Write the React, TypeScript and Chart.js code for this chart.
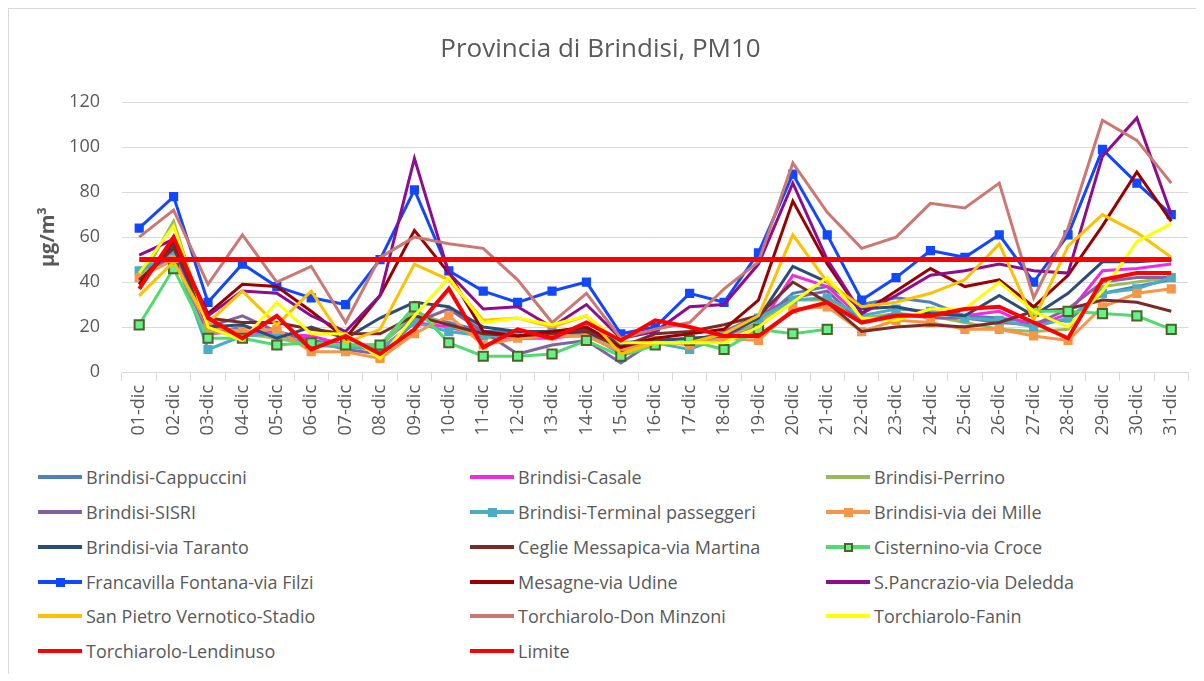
import React, { useEffect, useRef } from "react";
import { Chart, registerables } from "chart.js";

Chart.register(...registerables);

const FONT = "'Open Sans', sans-serif";
const TEXT = "#595959";

const days = [
  "01-dic", "02-dic", "03-dic", "04-dic", "05-dic", "06-dic", "07-dic", "08-dic", "09-dic", "10-dic",
  "11-dic", "12-dic", "13-dic", "14-dic", "15-dic", "16-dic", "17-dic", "18-dic", "19-dic", "20-dic",
  "21-dic", "22-dic", "23-dic", "24-dic", "25-dic", "26-dic", "27-dic", "28-dic", "29-dic", "30-dic", "31-dic",
];

const yTicks = [0, 20, 40, 60, 80, 100, 120];

const cappuccini = [42, 52, 17, 20, 18, 14, 12, 12, 25, 22, 18, 18, 17, 20, 12, 15, 13, 15, 22, 35, 38, 30, 33, 31, 25, 24, 22, 23, 35, 38, 41];
const casale = [43, 55, 17, 18, 17, 16, 12, 10, 22, 20, 16, 15, 15, 17, 10, 14, 14, 17, 20, 43, 38, 24, 24, 27, 25, 27, 20, 26, 45, 46, 48];
const perrino = [40, 67, 18, 17, 15, 12, 12, 11, 27, 21, 15, 16, 16, 16, 10, 15, 13, 14, 22, 32, 32, 24, 26, 25, 22, 19, 18, 19, 38, 40, 42];
const sisri = [46, 50, 20, 25, 18, 14, 10, 8, 22, 28, 18, 8, 12, 14, 4, 14, 13, 18, 25, 33, 36, 22, 26, 24, 24, 22, 21, 28, 40, 42, 42];
const terminal = [45, 53, 10, 16, 17, 12, 11, 10, 22, 18, 16, 16, 18, 17, 8, 13, 10, 16, 24, 32, 33, 25, 28, 27, 24, 23, 20, 24, 35, 37, 42];
const viaMille = [42, 50, 20, 18, 19, 9, 9, 6, 17, 25, 12, 15, 16, 16, 9, 14, 12, 15, 14, 28, 29, 18, 23, 22, 19, 19, 16, 14, 29, 35, 37];
const viaTaranto = [39, 56, 20, 21, 15, 20, 15, 24, 31, 29, 20, 18, 18, 19, 13, 14, 15, 16, 24, 47, 40, 28, 29, 26, 25, 34, 25, 35, 49, 49, 50];
const ceglie = [41, 55, 24, 22, 22, 19, 17, 17, 25, 21, 17, 16, 17, 18, 11, 17, 18, 21, 25, 40, 31, 18, 20, 21, 20, 22, 27, 28, 32, 31, 27];
const cisternino = [21, 46, 15, 15, 12, 13, 12, 12, 29, 13, 7, 7, 8, 14, 7, 12, 14, 10, 19, 17, 19, null, null, null, null, null, 27, 27, 26, 25, 19];
const francavilla = [64, 78, 31, 48, 38, 33, 30, 50, 81, 45, 36, 31, 36, 40, 17, 20, 35, 31, 53, 88, 61, 32, 42, 54, 51, 61, 40, 61, 99, 84, 70];
const mesagne = [39, 58, 26, 39, 38, 27, 15, 34, 63, 44, 18, 16, 18, 20, 11, 15, 17, 19, 32, 76, 48, 26, 36, 46, 38, 41, 29, 43, 65, 89, 67];
const sPancrazio = [52, 59, 25, 36, 35, 25, 18, 34, 95, 44, 28, 29, 20, 30, 15, 18, 29, 30, 48, 84, 50, 26, 34, 43, 45, 48, 45, 44, 96, 113, 70];
const sanPietro = [34, 49, 22, 36, 21, 36, 13, 19, 48, 41, 23, 24, 20, 25, 8, 13, 13, 17, 25, 61, 40, 29, 31, 35, 41, 57, 23, 56, 70, 62, 51];
const donMinzoni = [60, 72, 39, 61, 40, 47, 22, 51, 60, 57, 55, 41, 22, 35, 15, 19, 22, 37, 49, 93, 71, 55, 60, 75, 73, 84, 33, 64, 112, 103, 84];
const fanin = [44, 65, 20, 14, 31, 17, 17, 6, 25, 42, 22, 24, 21, 25, 13, 13, 13, 13, 20, 31, 42, 24, 23, 28, 28, 40, 27, 20, 36, 58, 66];
const lendinuso = [37, 60, 24, 15, 25, 10, 16, 8, 19, 37, 11, 19, 15, 22, 14, 23, 20, 16, 16, 27, 31, 22, 25, 25, 28, 29, 22, 15, 41, 44, 44];
const limite = [50, 50, 50, 50, 50, 50, 50, 50, 50, 50, 50, 50, 50, 50, 50, 50, 50, 50, 50, 50, 50, 50, 50, 50, 50, 50, 50, 50, 50, 50, 50];

type Marker = { fill: string; stroke: string; borderWidth: number };
type Series = { label: string; data: (number | null)[]; color: string; width?: number; marker?: Marker };

const series: Series[] = [
  { label: "Brindisi-Cappuccini", data: cappuccini, color: "#4F81BD" },
  { label: "Brindisi-Casale", data: casale, color: "#F22ADF" },
  { label: "Brindisi-Perrino", data: perrino, color: "#9BBB59" },
  { label: "Brindisi-SISRI", data: sisri, color: "#8064A2" },
  { label: "Brindisi-Terminal passeggeri", data: terminal, color: "#4BACC6", marker: { fill: "#4BACC6", stroke: "#4BACC6", borderWidth: 0 } },
  { label: "Brindisi-via dei Mille", data: viaMille, color: "#F79646", marker: { fill: "#F79646", stroke: "#F79646", borderWidth: 0 } },
  { label: "Brindisi-via Taranto", data: viaTaranto, color: "#2C4D75" },
  { label: "Ceglie Messapica-via Martina", data: ceglie, color: "#772C2A" },
  { label: "Cisternino-via Croce", data: cisternino, color: "#4EDC6E", marker: { fill: "#66F28A", stroke: "#4F6228", borderWidth: 2 } },
  { label: "Francavilla Fontana-via Filzi", data: francavilla, color: "#1147FF", marker: { fill: "#1147FF", stroke: "#1147FF", borderWidth: 0 } },
  { label: "Mesagne-via Udine", data: mesagne, color: "#9B0000" },
  { label: "S.Pancrazio-via Deledda", data: sPancrazio, color: "#8E0C8E" },
  { label: "San Pietro Vernotico-Stadio", data: sanPietro, color: "#FFC000" },
  { label: "Torchiarolo-Don Minzoni", data: donMinzoni, color: "#CD7772" },
  { label: "Torchiarolo-Fanin", data: fanin, color: "#FFFF00" },
  { label: "Torchiarolo-Lendinuso", data: lendinuso, color: "#FF0000", width: 4 },
  { label: "Limite", data: limite, color: "#FF0000", width: 5 },
];

const colX = [29, 461, 817];
const rowY = [468, 503, 538, 573, 607, 642];

export default function App() {
  const canvasRef = useRef<HTMLCanvasElement | null>(null);

  useEffect(() => {
    const canvas = canvasRef.current;
    if (!canvas) return;
    const chart = new Chart(canvas, {
      type: "line",
      data: {
        labels: days,
        datasets: series.map((s, i) => ({
          label: s.label,
          data: s.data,
          borderColor: s.color,
          backgroundColor: s.color,
          borderWidth: s.width ?? 3,
          pointStyle: "rect",
          pointRadius: s.marker ? 6.5 : 0,
          pointHoverRadius: s.marker ? 6.5 : 0,
          pointBackgroundColor: s.marker ? s.marker.fill : s.color,
          pointBorderColor: s.marker ? s.marker.stroke : s.color,
          pointBorderWidth: s.marker ? s.marker.borderWidth : 0,
          tension: 0,
          fill: false,
          spanGaps: false,
          order: 100 - i,
        })),
      },
      options: {
        responsive: false,
        animation: false,
        layout: { padding: { left: 0, right: 5, top: 0, bottom: 0 } },
        plugins: {
          legend: { display: false },
          tooltip: { enabled: false },
          title: {
            display: true,
            text: "Provincia di Brindisi, PM10",
            color: TEXT,
            font: { family: FONT, size: 26, weight: "normal" },
            padding: { top: 25, bottom: 37 },
          },
        },
        scales: {
          x: {
            offset: true,
            grid: { offset: true, drawOnChartArea: false, color: "#D9D9D9", tickLength: 9, tickColor: "#D9D9D9" },
            border: { color: "#D9D9D9" },
            ticks: {
              autoSkip: false,
              maxRotation: 90,
              minRotation: 90,
              padding: 4,
              color: TEXT,
              font: { family: FONT, size: 18 },
            },
            afterFit: (s: any) => {
              s.height = 70;
            },
          },
          y: {
            min: 0,
            max: 120,
            afterBuildTicks: (s: any) => {
              s.ticks = yTicks.map((v) => ({ value: v }));
            },
            ticks: { padding: 22, color: TEXT, font: { family: FONT, size: 18 } },
            grid: { color: "#D9D9D9", drawTicks: false },
            border: { display: false },
            title: {
              display: true,
              text: "µg/m³",
              color: TEXT,
              font: { family: FONT, size: 20, weight: "bold" },
              padding: { top: 27, bottom: 0 },
            },
            afterFit: (s: any) => {
              s.width = 113;
            },
          },
        },
      },
    });
    return () => chart.destroy();
  }, []);

  return (
    <div
      style={{
        position: "relative",
        width: 1189,
        height: 665,
        borderLeft: "1px solid #D9D9D9",
        borderTop: "1px solid #D9D9D9",
        background: "#fff",
        fontFamily: FONT,
      }}
    >
      <canvas ref={canvasRef} width={1188} height={433} style={{ position: "absolute", left: 0, top: 0 }} />
      {series.map((s, i) => {
        const col = i % 3;
        const row = Math.floor(i / 3);
        const x = colX[col];
        const y = rowY[row];
        return (
          <div key={s.label}>
            <div
              style={{
                position: "absolute",
                left: x,
                top: y - 2,
                width: 44,
                height: 4,
                background: s.color,
              }}
            />
            {s.marker ? (
              <div
                style={{
                  position: "absolute",
                  left: x + 22 - 4.5,
                  top: y - 4.5,
                  width: 9 - 2 * s.marker.borderWidth,
                  height: 9 - 2 * s.marker.borderWidth,
                  background: s.marker.fill,
                  border: `${s.marker.borderWidth}px solid ${s.marker.stroke}`,
                }}
              />
            ) : null}
            <div
              style={{
                position: "absolute",
                left: x + 48,
                top: y - 13,
                height: 26,
                lineHeight: "26px",
                fontSize: 18,
                color: TEXT,
                whiteSpace: "nowrap",
              }}
            >
              {s.label}
            </div>
          </div>
        );
      })}
    </div>
  );
}
